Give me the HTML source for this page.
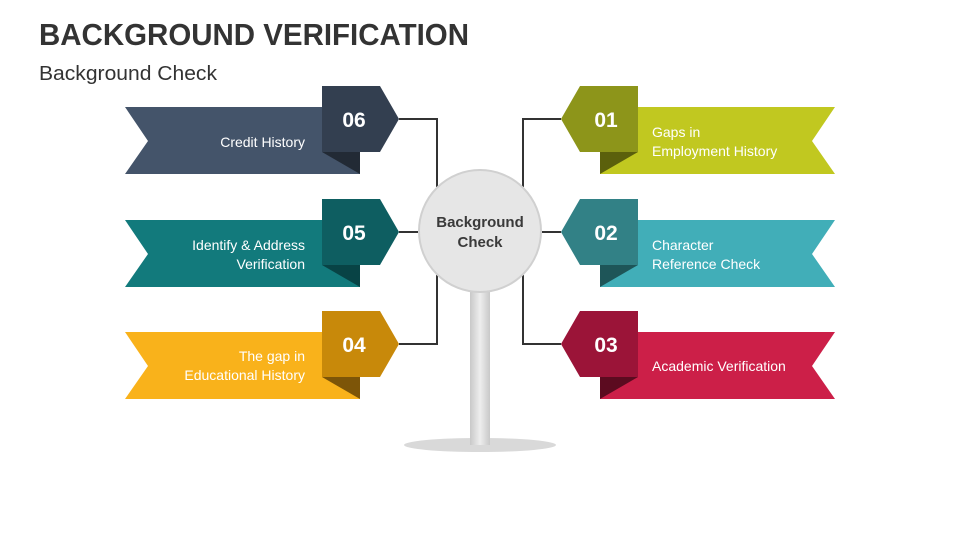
<!DOCTYPE html>
<html><head><meta charset="utf-8"><style>
body{margin:0;width:960px;height:540px;background:#fff;overflow:hidden;font-family:"Liberation Sans",sans-serif}
</style></head><body>
<svg width="960" height="540" viewBox="0 0 960 540" xmlns="http://www.w3.org/2000/svg" font-family="Liberation Sans, sans-serif">
<text x="39" y="45" font-size="31" font-weight="bold" fill="#333" textLength="430" lengthAdjust="spacingAndGlyphs">BACKGROUND VERIFICATION</text>
<text x="39" y="80" font-size="20" fill="#333" textLength="178" lengthAdjust="spacingAndGlyphs">Background Check</text>
<defs><linearGradient id="pole" x1="0" x2="1"><stop offset="0" stop-color="#c8c8c8"/><stop offset=".5" stop-color="#eee"/><stop offset="1" stop-color="#c8c8c8"/></linearGradient></defs>
<ellipse cx="480" cy="445" rx="76" ry="7" fill="#d9d9d9"/>
<rect x="470" y="285" width="20" height="160" fill="url(#pole)"/>
<g stroke="#333" stroke-width="2" fill="none">
<polyline points="399,119 437,119 437,187"/><polyline points="399,344 437,344 437,275"/>
<line x1="399" y1="232" x2="418" y2="232"/>
<polyline points="561,119 523,119 523,187"/><polyline points="561,344 523,344 523,275"/>
<line x1="542" y1="232" x2="561" y2="232"/>
</g>
<circle cx="480" cy="231" r="61" fill="#e6e6e6" stroke="#d0d0d0" stroke-width="2"/>
<text x="480" y="227" font-size="15" font-weight="bold" fill="#3a3a3a" text-anchor="middle">Background</text>
<text x="480" y="247" font-size="15" font-weight="bold" fill="#3a3a3a" text-anchor="middle">Check</text>
<polygon points="125,107 360,107 360,174 125,174 148,141" fill="#44546a"/>
<polygon points="322,152 360,152 360,174" fill="#222a35"/>
<polygon points="322,86 380,86 399,119 380,152 322,152" fill="#333f50"/>
<polygon points="125,220 360,220 360,287 125,287 148,254" fill="#127a7c"/>
<polygon points="322,265 360,265 360,287" fill="#084345"/>
<polygon points="322,199 380,199 399,232 380,265 322,265" fill="#0e5e61"/>
<polygon points="125,332 360,332 360,399 125,399 148,366" fill="#f9b21b"/>
<polygon points="322,377 360,377 360,399" fill="#7d5508"/>
<polygon points="322,311 380,311 399,344 380,377 322,377" fill="#c8890a"/>
<polygon points="835,107 600,107 600,174 835,174 812,141" fill="#c1c820"/>
<polygon points="638,152 600,152 600,174" fill="#5b600c"/>
<polygon points="638,86 580,86 561,119 580,152 638,152" fill="#8d951a"/>
<polygon points="835,220 600,220 600,287 835,287 812,254" fill="#41aeb8"/>
<polygon points="638,265 600,265 600,287" fill="#1e5558"/>
<polygon points="638,199 580,199 561,232 580,265 638,265" fill="#328186"/>
<polygon points="835,332 600,332 600,399 835,399 812,366" fill="#cc1f48"/>
<polygon points="638,377 600,377 600,399" fill="#5c0b20"/>
<polygon points="638,311 580,311 561,344 580,377 638,377" fill="#9b1438"/>
<g font-size="21" font-weight="bold" fill="#fff" text-anchor="middle">
<text x="354" y="127">06</text><text x="354" y="240">05</text><text x="354" y="352">04</text>
<text x="606" y="127">01</text><text x="606" y="240">02</text><text x="606" y="352">03</text>
</g>
<g font-size="14" fill="#fff" text-anchor="end">
<text x="305" y="147">Credit History</text>
<text x="305" y="250">Identify &amp; Address</text><text x="305" y="269">Verification</text>
<text x="305" y="361">The gap in</text><text x="305" y="380">Educational History</text>
</g>
<g font-size="14" fill="#fff">
<text x="652" y="137">Gaps in</text><text x="652" y="156">Employment History</text>
<text x="652" y="250">Character</text><text x="652" y="269">Reference Check</text>
<text x="652" y="371">Academic Verification</text>
</g>
</svg>
</body></html>
